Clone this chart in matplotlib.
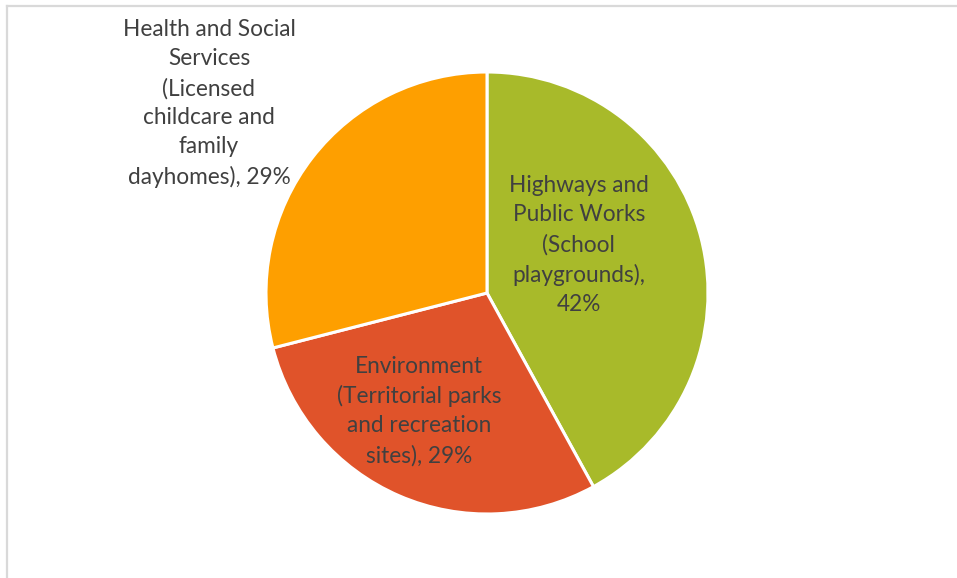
import matplotlib
matplotlib.use("Agg")
import matplotlib.pyplot as plt
from matplotlib.lines import Line2D

# Playground inspection share by department
departments = [
    "Highways and\nPublic Works\n(School\nplaygrounds)",
    "Environment\n(Territorial parks\nand recreation\nsites)",
    "Health and Social\nServices\n(Licensed\nchildcare and\nfamily\ndayhomes)",
]
shares = [42, 29, 29]
colors = ["#A8BA2A", "#E0532A", "#FE9F00"]
# the value goes on its own line when the last line is already long
value_sep = ["\n", " ", " "]

W, H = 957, 578
fig = plt.figure(figsize=(W / 100, H / 100), dpi=100)
fig.patch.set_facecolor("white")

# pie area: centre (487, 293) px, radius 221 px
cx, cy, r = 487, 293, 221
ax = fig.add_axes([(cx - r) / W, (H - cy - r) / H, 2 * r / W, 2 * r / H])
ax.pie(shares, colors=colors, startangle=90, counterclock=False, radius=1,
       wedgeprops=dict(edgecolor="white", linewidth=2.2))
ax.set_xlim(-1, 1)
ax.set_ylim(-1, 1)
ax.set_aspect("equal")
ax.axis("off")

# label positions in pie units
label_pos = [(0.416, 0.217), (-0.308, -0.534), (-1.258, 0.857)]
for name, v, sep, (x, y) in zip(departments, shares, value_sep, label_pos):
    ax.text(x, y, f"{name},{sep}{v}%", ha="center", va="center", fontsize=16.3,
            family="Lato", color="#404040", linespacing=1.47, clip_on=False)

# chart-area border (top and left edges)
border = "#D9D9D9"
fig.add_artist(Line2D([7 / W, 1], [1 - 5.5 / H, 1 - 5.5 / H], color=border, lw=1.6,
                      transform=fig.transFigure))
fig.add_artist(Line2D([7 / W, 7 / W], [0, 1 - 5.5 / H], color=border, lw=1.6,
                      transform=fig.transFigure))

fig.savefig("out.png", dpi=100, facecolor="white")
